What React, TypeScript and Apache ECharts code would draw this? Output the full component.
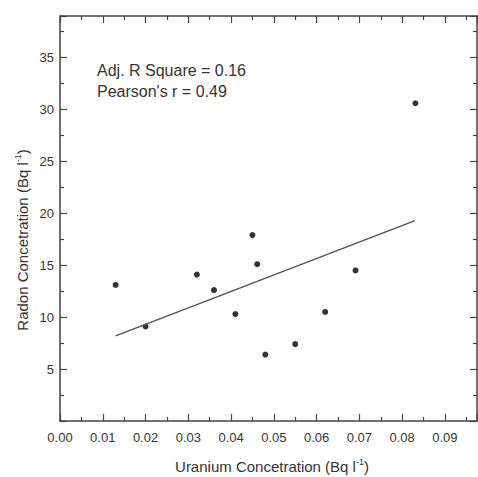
import React, { useEffect, useRef } from "react";
import * as echarts from "echarts";

const uranium = [0.013, 0.02, 0.032, 0.036, 0.041, 0.045, 0.0461, 0.048, 0.055, 0.062, 0.0691, 0.0831];
const radon = [13.1, 9.1, 14.1, 12.6, 10.3, 17.9, 15.1, 6.4, 7.4, 10.5, 14.5, 30.6];
const fitLine = [
  [0.013, 8.2],
  [0.083, 19.3],
];
const statLines = ["Adj. R Square = 0.16", "Pearson's r = 0.49"];
const xTitle = "Uranium Concetration (Bq l";
const yTitle = "Radon Concetration (Bq l";

export default function App() {
  const ref = useRef<HTMLDivElement>(null);
  useEffect(() => {
    const chart = echarts.init(ref.current!, null, { renderer: "svg" });
    const font = "'Liberation Sans', Arial, sans-serif";
    const axisLine = { show: true, onZero: false, lineStyle: { color: "#444", width: 1.5 } };
    const tick = { show: true, inside: true, length: 7, lineStyle: { color: "#444", width: 1.2 } };
    const minor = { show: true, splitNumber: 2, length: 4, lineStyle: { color: "#444", width: 1.2 } };
    const xBase = {
      type: "value",
      min: 0,
      max: 0.0975,
      interval: 0.01,
      axisLine,
      axisTick: tick,
      minorTick: minor,
      splitLine: { show: false },
    };
    const yBase = {
      type: "value",
      min: 0,
      max: 39,
      interval: 5,
      axisLine,
      axisTick: tick,
      minorTick: minor,
      splitLine: { show: false },
    };
    const rich = {
      m: { fontSize: 15, fontFamily: font, fill: "#333", color: "#333" },
      s: { fontSize: 9, fontFamily: font, fill: "#333", color: "#333", verticalAlign: "top", padding: [0, 0, 8, 0] },
    };
    chart.setOption({
      animation: false,
      backgroundColor: "#fff",
      grid: { left: 60, top: 16, right: 1, bottom: 56 },
      xAxis: [
        {
          ...xBase,
          position: "bottom",
          axisLabel: {
            color: "#333",
            fontSize: 13,
            fontFamily: font,
            margin: 10,
            showMaxLabel: false,
            formatter: (v: number) => {
              const k = Math.round(v * 100);
              return Math.abs(v * 100 - k) < 1e-6 && k <= 9 ? (k / 100).toFixed(2) : "";
            },
          },
        },
        { ...xBase, position: "top", axisLabel: { show: false } },
      ],
      yAxis: [
        {
          ...yBase,
          position: "left",
          axisLabel: {
            color: "#333",
            fontSize: 13,
            fontFamily: font,
            margin: 6,
            formatter: (v: number) => (v > 0 && v <= 35 && v % 5 === 0 ? String(v) : ""),
          },
        },
        { ...yBase, position: "right", axisLabel: { show: false } },
      ],
      series: [
        {
          type: "scatter",
          xAxisIndex: 0,
          yAxisIndex: 0,
          symbolSize: 6,
          itemStyle: { color: "#000" },
          data: uranium.map((u, i) => [u, radon[i]]),
        },
        {
          type: "line",
          xAxisIndex: 0,
          yAxisIndex: 0,
          showSymbol: false,
          symbol: "none",
          lineStyle: { color: "#555", width: 1.5 },
          data: fitLine,
        },
      ],
      graphic: [
        {
          type: "text",
          left: 97,
          top: 60,
          style: { text: statLines.join("\n"), fill: "#333", font: `16px ${font}`, lineHeight: 21 },
        },
        {
          type: "text",
          x: 272,
          y: 466,
          style: { text: `{m|${xTitle}}{s|-1}{m|)}`, align: "center", verticalAlign: "middle", rich },
        },
        {
          type: "text",
          x: 22,
          y: 240,
          rotation: Math.PI / 2,
          style: { text: `{m|${yTitle}}{s|-1}{m|)}`, align: "center", verticalAlign: "middle", rich },
        },
      ],
    });
    return () => chart.dispose();
  }, []);
  return <div ref={ref} style={{ width: 478, height: 477, position: "absolute", left: 0, top: 0 }} />;
}
